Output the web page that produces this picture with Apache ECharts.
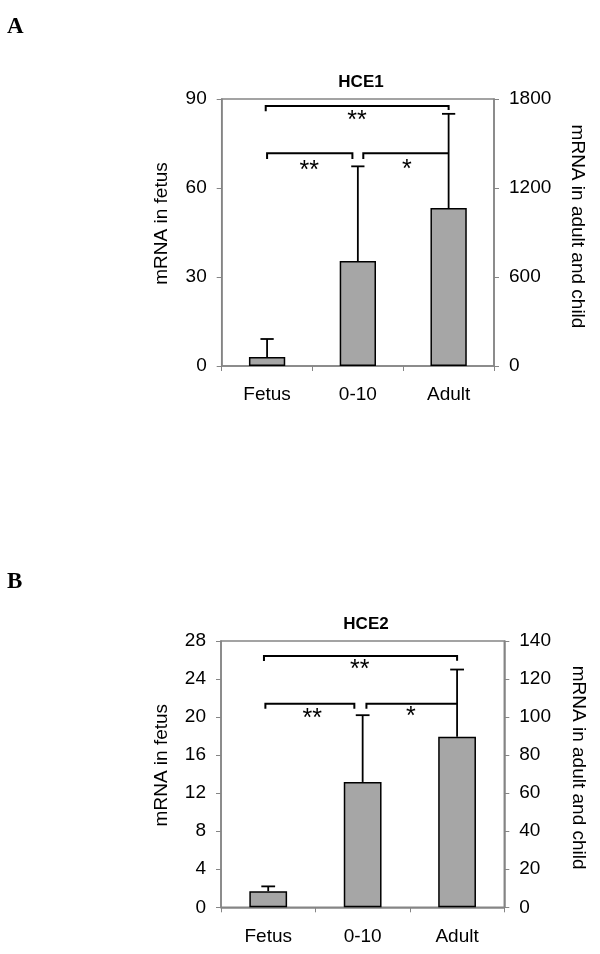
<!DOCTYPE html>
<html>
<head>
<meta charset="utf-8">
<script src="https://cdn.jsdelivr.net/npm/echarts@6/dist/echarts.min.js"></script>
<style>
html,body{margin:0;padding:0;background:#fff;}
#chart{width:600px;height:954px;}
</style>
</head>
<body>
<div id="chart"></div>
<script>
const categories = ['Fetus', '0-10', 'Adult'];

// Panel A: HCE1 (fetus on left axis, 0-10 and adult on right axis)
const hce1LeftMeans = [3.0, null, null];
const hce1LeftErrTops = [9.1, null, null];
const hce1RightMeans = [null, 708, 1065];
const hce1RightErrTops = [null, 1346, 1700];
const hce1LeftAxis = { min: 0, max: 90, interval: 30 };
const hce1RightAxis = { min: 0, max: 1800, interval: 600 };
// brackets in left-axis units: [xStart, xEnd (category index), y, leftDropTo, rightDropTo]
const hce1Brackets = [[-0.015, 2.0, 87.6, 85.9, 86.3], [0.0, 0.94, 71.7, 69.8, 69.8], [1.06, 2.0, 71.7, 69.8, 71.7]];
const hce1Stars = [[0.99, 84.3, '**'], [0.465, 67.5, '**'], [1.54, 67.9, '*']];

// Panel B: HCE2
const hce2LeftMeans = [1.7, null, null];
const hce2LeftErrTops = [2.2, null, null];
const hce2RightMeans = [null, 65.9, 89.7];
const hce2RightErrTops = [null, 101, 125];
const hce2LeftAxis = { min: 0, max: 28, interval: 4 };
const hce2RightAxis = { min: 0, max: 140, interval: 20 };
const hce2Brackets = [[-0.045, 2.0, 26.42, 25.9, 25.93], [-0.03, 0.912, 21.41, 20.88, 20.88], [1.04, 2.0, 21.41, 20.88, 21.41]];
const hce2Stars = [[0.97, 25.55, '**'], [0.467, 20.35, '**'], [1.51, 20.55, '*']];

const FONT = 'Liberation Sans';
const GRAY = '#858585';

function errData(means, tops) {
  const out = [];
  means.forEach((m, i) => { if (m != null) out.push([i, m, tops[i]]); });
  return out;
}

function errSeries(xi, yi, means, tops) {
  return {
    type: 'custom', xAxisIndex: xi, yAxisIndex: yi, z: 3,
    data: errData(means, tops),
    renderItem: function (params, api) {
      const p0 = api.coord([api.value(0), api.value(1)]);
      const p1 = api.coord([api.value(0), api.value(2)]);
      const band = api.size([1, 0])[0];
      const half = band * 0.073;
      return {
        type: 'group',
        children: [
          { type: 'line', shape: { x1: p0[0], y1: p0[1], x2: p1[0], y2: p1[1] }, style: { stroke: '#000', lineWidth: 1.8 } },
          { type: 'line', shape: { x1: p1[0] - half, y1: p1[1], x2: p1[0] + half, y2: p1[1] }, style: { stroke: '#000', lineWidth: 1.8 } }
        ]
      };
    }
  };
}

function bracketSeries(xi, yi, brackets) {
  return {
    type: 'custom', xAxisIndex: xi, yAxisIndex: yi, z: 4,
    data: brackets.map(b => [0, b[2], b[0], b[1], b[3], b[4]]),
    renderItem: function (params, api) {
      const base = api.coord([0, api.value(1)]);
      const band = api.size([1, 0])[0];
      const xa = base[0] + api.value(2) * band;
      const xb = base[0] + api.value(3) * band;
      const yl = api.coord([0, api.value(4)])[1];
      const yr = api.coord([0, api.value(5)])[1];
      return {
        type: 'polyline',
        shape: { points: [[xa, yl], [xa, base[1]], [xb, base[1]], [xb, yr]] },
        style: { stroke: '#000', lineWidth: 2, fill: null }
      };
    }
  };
}

function starSeries(xi, yi, stars) {
  return {
    type: 'custom', xAxisIndex: xi, yAxisIndex: yi, z: 4,
    data: stars.map(s => [0, s[1], s[0]]),
    renderItem: function (params, api) {
      const base = api.coord([0, api.value(1)]);
      const band = api.size([1, 0])[0];
      const fs = 25;
      return {
        type: 'text',
        x: base[0] + api.value(2) * band,
        y: base[1] + fs * 0.22,
        style: { text: stars[params.dataIndex][2], fontFamily: FONT, fontSize: fs, fill: '#000', align: 'center', verticalAlign: 'middle' }
      };
    }
  };
}

function xAxisCfg(gi, margin) {
  return {
    type: 'category', gridIndex: gi, data: categories,
    axisLine: { lineStyle: { color: GRAY, width: 1.5 } },
    axisTick: { show: true, length: 5, lineStyle: { color: GRAY, width: 1 } },
    axisLabel: { color: '#000', fontFamily: FONT, fontSize: 19, margin: margin }
  };
}

function yAxisCfg(gi, pos, range, name, gap, rot, pad) {
  return {
    type: 'value', gridIndex: gi, position: pos,
    min: range.min, max: range.max, interval: range.interval,
    name: name, nameLocation: 'middle', nameGap: gap, nameRotate: rot,
    nameTextStyle: { color: '#000', fontFamily: FONT, fontSize: 19, padding: pad },
    splitLine: { show: false },
    axisLine: { show: true, lineStyle: { color: GRAY, width: 1.5 } },
    axisTick: { show: true, length: 5, lineStyle: { color: GRAY, width: 1 } },
    axisLabel: { color: '#000', fontFamily: FONT, fontSize: 19, margin: 15, formatter: v => String(v) }
  };
}

function barSeries(xi, yi, data) {
  return {
    type: 'bar', xAxisIndex: xi, yAxisIndex: yi, data: data,
    barWidth: '40%', barGap: '-100%', z: 2,
    itemStyle: { color: '#a6a6a6', borderColor: '#000', borderWidth: 1.5 }
  };
}

const chart = echarts.init(document.getElementById('chart'), null, { renderer: 'canvas' });
chart.setOption({
  animation: false,
  backgroundColor: '#fff',
  title: [
    { text: 'HCE1', left: 356, top: 69, textAlign: 'center', textStyle: { fontFamily: FONT, fontSize: 17, fontWeight: 'bold', color: '#000' } },
    { text: 'HCE2', left: 361, top: 611, textAlign: 'center', textStyle: { fontFamily: FONT, fontSize: 17, fontWeight: 'bold', color: '#000' } }
  ],
  graphic: [
    { type: 'text', left: 7, top: 16, style: { text: 'A', fontFamily: 'Liberation Serif', fontWeight: 'bold', fontSize: 23, fill: '#000' } },
    { type: 'text', left: 7, top: 571, style: { text: 'B', fontFamily: 'Liberation Serif', fontWeight: 'bold', fontSize: 23, fill: '#000' } }
  ],
  grid: [
    { left: 221.7, top: 99, width: 272.3, height: 267, show: true, borderColor: GRAY, borderWidth: 1.5, backgroundColor: 'transparent' },
    { left: 221, top: 641, width: 283.3, height: 266.3, show: true, borderColor: GRAY, borderWidth: 1.5, backgroundColor: 'transparent' }
  ],
  xAxis: [xAxisCfg(0, 19), xAxisCfg(1, 20)],
  yAxis: [
    yAxisCfg(0, 'left', hce1LeftAxis, 'mRNA in fetus', 50, 90, [0, 0, 0, 18]),
    yAxisCfg(0, 'right', hce1RightAxis, 'mRNA in adult and child', 74, -90, [0, 12, 0, 0]),
    yAxisCfg(1, 'left', hce2LeftAxis, 'mRNA in fetus', 50, 90, [0, 0, 0, 18]),
    yAxisCfg(1, 'right', hce2RightAxis, 'mRNA in adult and child', 64, -90, [0, 13, 0, 0])
  ],
  series: [
    barSeries(0, 0, hce1LeftMeans),
    barSeries(0, 1, hce1RightMeans),
    errSeries(0, 0, hce1LeftMeans, hce1LeftErrTops),
    errSeries(0, 1, hce1RightMeans, hce1RightErrTops),
    bracketSeries(0, 0, hce1Brackets),
    starSeries(0, 0, hce1Stars),
    barSeries(1, 2, hce2LeftMeans),
    barSeries(1, 3, hce2RightMeans),
    errSeries(1, 2, hce2LeftMeans, hce2LeftErrTops),
    errSeries(1, 3, hce2RightMeans, hce2RightErrTops),
    bracketSeries(1, 2, hce2Brackets),
    starSeries(1, 2, hce2Stars)
  ]
});
</script>
</body>
</html>
